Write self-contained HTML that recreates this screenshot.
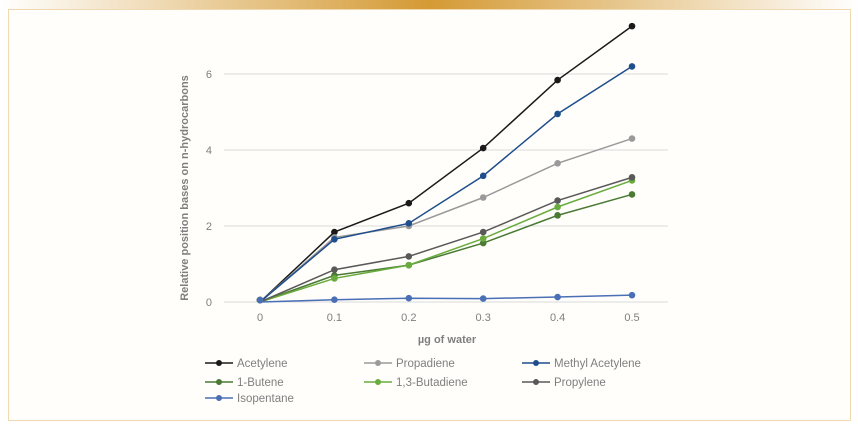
<!DOCTYPE html>
<html><head><meta charset="utf-8"><style>
body{margin:0;background:#fff;width:858px;height:428px;overflow:hidden;font-family:"Liberation Sans",sans-serif}
</style></head><body>
<svg width="858" height="428" xmlns="http://www.w3.org/2000/svg">
<defs><linearGradient id="g" x1="0" x2="1"><stop offset="0" stop-color="#fff"/><stop offset="0.5" stop-color="#d49a34"/><stop offset="1" stop-color="#fff"/></linearGradient></defs>
<rect x="0" y="0" width="858" height="9" fill="url(#g)"/>
<rect x="8.5" y="9.5" width="842" height="411" fill="#fffefb" stroke="#f0d9b0"/>
<g id="grid"></g>
<g id="series"></g>
<g id="legend"></g>
<text x="447" y="343" text-anchor="middle" font-size="11" font-weight="bold" fill="#7f7f7f">µg of water</text>
<text transform="translate(188,188) rotate(-90)" text-anchor="middle" font-size="11" font-weight="bold" fill="#7f7f7f">Relative position bases on n-hydrocarbons</text>
</svg>
<script>
const xCats=[0,0.1,0.2,0.3,0.4,0.5];
const xLabels=["0","0.1","0.2","0.3","0.4","0.5"];
const yTicks=[0,2,4,6];
const seriesNames=["Acetylene","Propadiene","Methyl Acetylene","1-Butene","1,3-Butadiene","Propylene","Isopentane"];
const acetylene=[0.05,1.84,2.6,4.05,5.84,7.26];
const propadiene=[0.05,1.7,2.0,2.75,3.65,4.3];
const methylAcetylene=[0.05,1.65,2.07,3.32,4.95,6.2];
const butene1=[0.05,0.7,0.97,1.55,2.28,2.83];
const butadiene13=[0.05,0.62,0.97,1.67,2.5,3.2];
const propylene=[0.05,0.85,1.2,1.84,2.67,3.28];
const isopentane=[0.05,0.06,0.1,0.09,0.13,0.18];
const allSeries=[acetylene,propadiene,methylAcetylene,butene1,butadiene13,propylene,isopentane];
const colors=["#1a1a1a","#9a9a9a","#1f4e8c","#4a7a34","#6aab3e","#595959","#4a6fb5"];
const NS="http://www.w3.org/2000/svg";
const X=v=>260+v*744;
const Y=v=>302-v*38;
function mk(t,a,p){const e=document.createElementNS(NS,t);for(const k in a)e.setAttribute(k,a[k]);p.appendChild(e);return e;}
const grid=document.getElementById('grid');
yTicks.forEach(t=>{
 const l=mk('line',{x1:224,x2:668,y1:Y(t),y2:Y(t),stroke:'#d9d9d9','stroke-width':1},grid);
 
 
 const tx=mk('text',{x:212,y:Y(t)+4,'text-anchor':'end','font-size':11,fill:'#7f7f7f'},grid);tx.textContent=t;
 
 
});
xCats.forEach((c,i)=>{
 const tx=mk('text',{x:X(c),y:321,'text-anchor':'middle','font-size':11,fill:'#7f7f7f'},grid);tx.textContent=xLabels[i];
 
 
});
const sg=document.getElementById('series');
allSeries.forEach((s,si)=>{
 const g=mk('g',{},sg);
 
 
 const pts=s.map((v,i)=>X(xCats[i])+','+Y(i===0?0:v)).join(' ');
 const pl=mk('polyline',{points:pts,fill:'none',stroke:colors[si],'stroke-width':1.5},g);
 
 
 s.forEach((v,i)=>{
  const c=mk('circle',{cx:X(xCats[i]),cy:Y(v),r:3.3,fill:colors[si]},g);
  
  
 });
});
const lg=document.getElementById('legend');
const lx=[205,364,522],ly=[363,382,398];
seriesNames.forEach((n,i)=>{
 const x=lx[i%3],y=ly[Math.floor(i/3)];
 const g=mk('g',{},lg);
 
 
 mk('line',{x1:x,x2:x+28,y1:y,y2:y,stroke:colors[i],'stroke-width':1.5},g);
 mk('circle',{cx:x+14,cy:y,r:3,fill:colors[i]},g);
 const t=mk('text',{x:x+32,y:y+4,'font-size':11.5,fill:'#7f7f7f'},g);t.textContent=n;
});
</script>
</body></html>
